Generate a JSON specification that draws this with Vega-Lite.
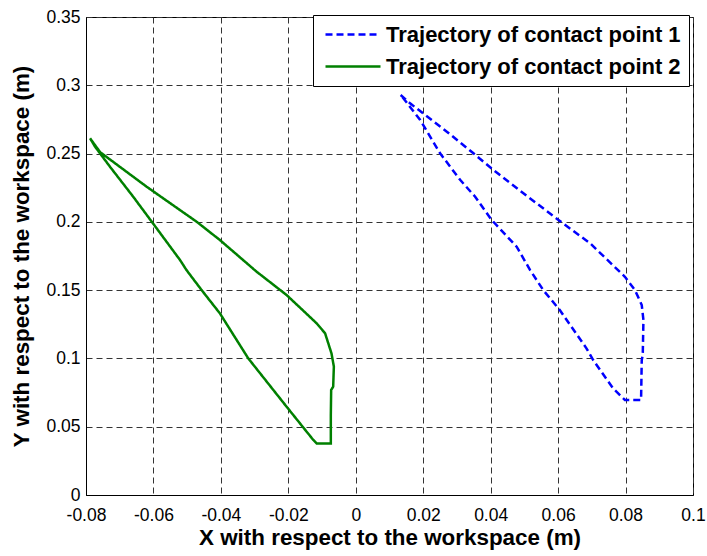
{
  "$schema": "https://vega.github.io/schema/vega-lite/v6.json",
  "width": 607,
  "height": 478,
  "autosize": {"type": "none"},
  "padding": {"left": 86, "top": 17, "right": 14, "bottom": 61},
  "background": "white",
  "config": {
    "font": "Liberation Sans",
    "view": {"stroke": "black", "strokeWidth": 1},
    "axis": {
      "domainColor": "black",
      "domainWidth": 1,
      "grid": true,
      "gridColor": "#333333",
      "gridDash": [6, 4],
      "gridWidth": 1,
      "ticks": false,
      "labelFlush": false,
      "labelOverlap": false,
      "labelFont": "Liberation Sans",
      "labelFontSize": 17.5,
      "labelColor": "black",
      "labelPadding": 6,
      "titleFont": "Liberation Sans",
      "titleFontSize": 22.4,
      "titleFontWeight": "bold",
      "titleColor": "black"
    },
    "legend": {
      "labelFont": "Liberation Sans",
      "labelFontSize": 22,
      "labelFontWeight": "bold",
      "labelColor": "black",
      "labelLimit": 500
    }
  },
  "data": {
    "values": [
      {"s": "Trajectory of contact point 1", "i": 1, "x": 0.0133, "y": 0.2929},
      {"s": "Trajectory of contact point 1", "i": 2, "x": 0.0161, "y": 0.2868},
      {"s": "Trajectory of contact point 1", "i": 3, "x": 0.027, "y": 0.266},
      {"s": "Trajectory of contact point 1", "i": 4, "x": 0.0349, "y": 0.2502},
      {"s": "Trajectory of contact point 1", "i": 5, "x": 0.0408, "y": 0.238},
      {"s": "Trajectory of contact point 1", "i": 6, "x": 0.0497, "y": 0.2209},
      {"s": "Trajectory of contact point 1", "i": 7, "x": 0.0601, "y": 0.2014},
      {"s": "Trajectory of contact point 1", "i": 8, "x": 0.0695, "y": 0.1843},
      {"s": "Trajectory of contact point 1", "i": 9, "x": 0.0798, "y": 0.1598},
      {"s": "Trajectory of contact point 1", "i": 10, "x": 0.0828, "y": 0.150},
      {"s": "Trajectory of contact point 1", "i": 11, "x": 0.0848, "y": 0.1391},
      {"s": "Trajectory of contact point 1", "i": 12, "x": 0.0853, "y": 0.1281},
      {"s": "Trajectory of contact point 1", "i": 13, "x": 0.0851, "y": 0.1025},
      {"s": "Trajectory of contact point 1", "i": 14, "x": 0.0848, "y": 0.0988},
      {"s": "Trajectory of contact point 1", "i": 15, "x": 0.0846, "y": 0.0696},
      {"s": "Trajectory of contact point 1", "i": 16, "x": 0.0798, "y": 0.0696},
      {"s": "Trajectory of contact point 1", "i": 17, "x": 0.0763, "y": 0.0781},
      {"s": "Trajectory of contact point 1", "i": 18, "x": 0.0704, "y": 0.0988},
      {"s": "Trajectory of contact point 1", "i": 19, "x": 0.0684, "y": 0.1074},
      {"s": "Trajectory of contact point 1", "i": 20, "x": 0.0605, "y": 0.1354},
      {"s": "Trajectory of contact point 1", "i": 21, "x": 0.0556, "y": 0.150},
      {"s": "Trajectory of contact point 1", "i": 22, "x": 0.0517, "y": 0.1647},
      {"s": "Trajectory of contact point 1", "i": 23, "x": 0.0477, "y": 0.1818},
      {"s": "Trajectory of contact point 1", "i": 24, "x": 0.0403, "y": 0.2014},
      {"s": "Trajectory of contact point 1", "i": 25, "x": 0.0354, "y": 0.2184},
      {"s": "Trajectory of contact point 1", "i": 26, "x": 0.031, "y": 0.2306},
      {"s": "Trajectory of contact point 1", "i": 27, "x": 0.025, "y": 0.2502},
      {"s": "Trajectory of contact point 1", "i": 28, "x": 0.0191, "y": 0.2746},
      {"s": "Trajectory of contact point 1", "i": 29, "x": 0.0141, "y": 0.2905},
      {"s": "Trajectory of contact point 1", "i": 30, "x": 0.0133, "y": 0.2929},
      {"s": "Trajectory of contact point 2", "i": 1, "x": -0.0788, "y": 0.2612},
      {"s": "Trajectory of contact point 2", "i": 2, "x": -0.0758, "y": 0.251},
      {"s": "Trajectory of contact point 2", "i": 3, "x": -0.062, "y": 0.2257},
      {"s": "Trajectory of contact point 2", "i": 4, "x": -0.0472, "y": 0.2001},
      {"s": "Trajectory of contact point 2", "i": 5, "x": -0.0403, "y": 0.1867},
      {"s": "Trajectory of contact point 2", "i": 6, "x": -0.0294, "y": 0.1635},
      {"s": "Trajectory of contact point 2", "i": 7, "x": -0.0205, "y": 0.1464},
      {"s": "Trajectory of contact point 2", "i": 8, "x": -0.0116, "y": 0.1257},
      {"s": "Trajectory of contact point 2", "i": 9, "x": -0.0091, "y": 0.1184},
      {"s": "Trajectory of contact point 2", "i": 10, "x": -0.0072, "y": 0.1037},
      {"s": "Trajectory of contact point 2", "i": 11, "x": -0.0065, "y": 0.094},
      {"s": "Trajectory of contact point 2", "i": 12, "x": -0.0067, "y": 0.0793},
      {"s": "Trajectory of contact point 2", "i": 13, "x": -0.0073, "y": 0.0769},
      {"s": "Trajectory of contact point 2", "i": 14, "x": -0.0074, "y": 0.0586},
      {"s": "Trajectory of contact point 2", "i": 15, "x": -0.0074, "y": 0.0378},
      {"s": "Trajectory of contact point 2", "i": 16, "x": -0.0116, "y": 0.0378},
      {"s": "Trajectory of contact point 2", "i": 17, "x": -0.0126, "y": 0.0403},
      {"s": "Trajectory of contact point 2", "i": 18, "x": -0.0205, "y": 0.0646},
      {"s": "Trajectory of contact point 2", "i": 19, "x": -0.0319, "y": 0.1001},
      {"s": "Trajectory of contact point 2", "i": 20, "x": -0.0403, "y": 0.133},
      {"s": "Trajectory of contact point 2", "i": 21, "x": -0.0457, "y": 0.150},
      {"s": "Trajectory of contact point 2", "i": 22, "x": -0.0502, "y": 0.1647},
      {"s": "Trajectory of contact point 2", "i": 23, "x": -0.0521, "y": 0.172},
      {"s": "Trajectory of contact point 2", "i": 24, "x": -0.0605, "y": 0.2001},
      {"s": "Trajectory of contact point 2", "i": 25, "x": -0.066, "y": 0.2184},
      {"s": "Trajectory of contact point 2", "i": 26, "x": -0.0729, "y": 0.2404},
      {"s": "Trajectory of contact point 2", "i": 27, "x": -0.0773, "y": 0.255},
      {"s": "Trajectory of contact point 2", "i": 28, "x": -0.0788, "y": 0.2612}
    ]
  },
  "mark": {"type": "line", "strokeWidth": 2.5, "clip": true},
  "encoding": {
    "x": {
      "field": "x",
      "type": "quantitative",
      "title": "X with respect to the workspace (m)",
      "scale": {"domain": [-0.08, 0.1], "nice": false, "zero": false},
      "axis": {
        "values": [-0.08, -0.06, -0.04, -0.02, 0, 0.02, 0.04, 0.06, 0.08, 0.1],
        "labelExpr": "replace(format(datum.value, '~g'), '\u2212', '-')",
        "labelPadding": 11,
        "titlePadding": 3
      }
    },
    "y": {
      "field": "y",
      "type": "quantitative",
      "title": "Y with respect to the workspace (m)",
      "scale": {"domain": [0, 0.35], "nice": false},
      "axis": {
        "values": [0, 0.05, 0.1, 0.15, 0.2, 0.25, 0.3, 0.35],
        "labelExpr": "replace(format(datum.value, '~g'), '\u2212', '-')",
        "titlePadding": 12
      }
    },
    "order": {"field": "i", "type": "quantitative"},
    "color": {
      "field": "s",
      "type": "nominal",
      "scale": {
        "domain": ["Trajectory of contact point 1", "Trajectory of contact point 2"],
        "range": ["#0000ff", "#008000"]
      },
      "legend": {
        "title": null,
        "orient": "none",
        "legendX": 227,
        "legendY": -2,
        "symbolType": "M-0.7,0H4.8",
        "symbolSize": 400,
        "symbolStrokeWidth": 2.5,
        "labelOffset": 42,
        "rowPadding": 9,
        "padding": 8,
        "strokeColor": "black",
        "fillColor": "white"
      }
    },
    "strokeDash": {
      "field": "s",
      "type": "nominal",
      "scale": {
        "domain": ["Trajectory of contact point 1", "Trajectory of contact point 2"],
        "range": [[7, 4], [1, 0]]
      },
      "legend": {
        "title": null,
        "orient": "none",
        "legendX": 227,
        "legendY": -2,
        "symbolType": "M-0.7,0H4.8",
        "symbolSize": 400,
        "symbolStrokeWidth": 2.5,
        "labelOffset": 42,
        "rowPadding": 9,
        "padding": 8,
        "strokeColor": "black",
        "fillColor": "white"
      }
    }
  }
}
